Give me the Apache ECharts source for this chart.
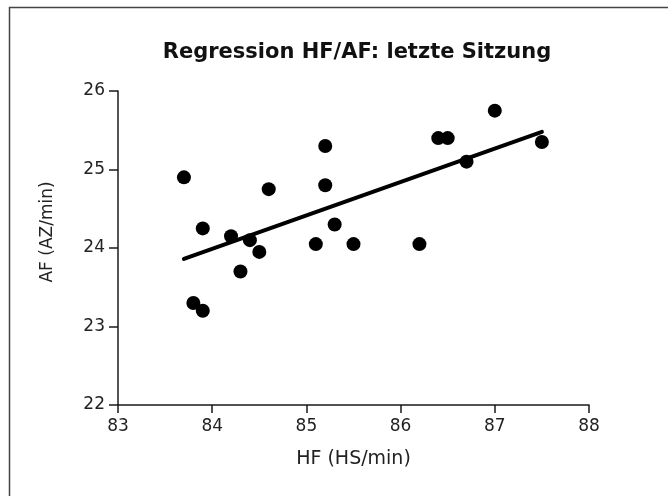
<!DOCTYPE html>
<html lang="de">
<head>
    <meta charset="UTF-8">
    <title>Regression HF/AF</title>
    <style>
        html, body { margin: 0; padding: 0; background: #fff; }
        #chart { width: 668px; height: 496px; }
    </style>
</head>
<body>
    <div id="chart"></div>
    <script src="https://cdn.jsdelivr.net/npm/echarts@6/dist/echarts.min.js"></script>
    <script>
        // Messwerte: HF (HS/min) und AF (AZ/min)
        var hf = [83.7, 83.8, 83.9, 83.9, 84.2, 84.3, 84.4, 84.5, 84.6, 85.1,
                  85.2, 85.2, 85.3, 85.5, 86.2, 86.4, 86.5, 86.7, 87.0, 87.5];
        var af = [24.9, 23.3, 24.25, 23.2, 24.15, 23.7, 24.1, 23.95, 24.75, 24.05,
                  25.3, 24.8, 24.3, 24.05, 24.05, 25.4, 25.4, 25.1, 25.75, 25.35];
        // Regressionsgerade (Start- und Endpunkt)
        var lineX = [83.7, 87.5];
        var lineY = [23.86, 25.48];
        var xTicks = [83, 88, 1];
        var yTicks = [22, 26, 1];

        var points = hf.map(function (x, i) { return [x, af[i]]; });
        var regLine = lineX.map(function (x, i) { return [x, lineY[i]]; });

        var font = 'DejaVu Sans';
        var axisCol = '#1a1a1a';

        var myecharts = echarts.init(document.getElementById('chart'));
        var option = {
            animation: false,
            title: {
                text: 'Regression HF/AF: letzte Sitzung',
                left: 352,
                textAlign: 'center',
                top: 37,
                textStyle: { fontFamily: font, fontSize: 21, fontWeight: 'bold', color: '#111' }
            },
            grid: { left: 118, right: 79, top: 91, bottom: 91 },
            xAxis: {
                type: 'value',
                min: xTicks[0], max: xTicks[1], interval: xTicks[2],
                name: 'HF (HS/min)',
                nameLocation: 'middle',
                nameGap: 45,
                nameTextStyle: { fontFamily: font, fontSize: 19, color: '#222' },
                splitLine: { show: false },
                axisLine: { lineStyle: { color: axisCol, width: 1.5 } },
                axisTick: { length: 8, lineStyle: { color: axisCol, width: 1.5 } },
                axisLabel: { fontFamily: font, fontSize: 17, color: '#222', margin: 13 }
            },
            yAxis: {
                type: 'value',
                min: yTicks[0], max: yTicks[1], interval: yTicks[2],
                splitLine: { show: false },
                axisLine: { show: true, lineStyle: { color: axisCol, width: 1.5 } },
                axisTick: { show: true, length: 9, lineStyle: { color: axisCol, width: 1.5 } },
                axisLabel: { fontFamily: font, fontSize: 17, color: '#222', margin: 13 }
            },
            graphic: [
                {
                    type: 'rect',
                    shape: { x: 9.5, y: 7.5, width: 700, height: 600 },
                    style: { fill: 'none', stroke: '#444', lineWidth: 1.5 },
                    silent: true
                },
                {
                    type: 'text',
                    x: 48, y: 232,
                    rotation: Math.PI / 2,
                    style: {
                        text: 'AF (AZ/min)',
                        fontFamily: font, fontSize: 17, fill: '#222',
                        align: 'center', verticalAlign: 'middle'
                    }
                }
            ],
            series: [
                {
                    type: 'scatter',
                    data: points,
                    symbolSize: 14,
                    itemStyle: { color: '#000', opacity: 1 },
                    z: 3
                },
                {
                    type: 'line',
                    data: regLine,
                    symbol: 'none',
                    lineStyle: { color: '#000', width: 4, cap: 'round' },
                    z: 2
                }
            ]
        };
        myecharts.setOption(option);
    </script>
</body>
</html>
